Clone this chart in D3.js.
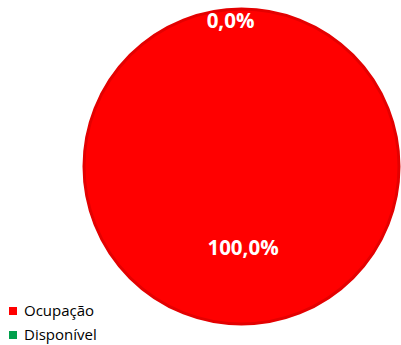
<!DOCTYPE html>
<html>
<head>
<meta charset="utf-8">
<script src="https://cdn.jsdelivr.net/npm/d3@7"></script>
<style>
  html, body { margin: 0; padding: 0; background: #fff; }
  svg { display: block; }
</style>
</head>
<body>
<svg id="chart" width="401" height="345"></svg>
<script>
const categories = ["Ocupação", "Disponível"];
const values = [100.0, 0.0];
const labels = ["100,0%", "0,0%"];
const colors = ["#ff0000", "#00a04c"];

const svg = d3.select("#chart");
const cx = 241.5, cy = 166.5, r = 157.5;

const data = categories.map((c, i) => ({ name: c, value: values[i], label: labels[i], color: colors[i] }));

// Start at 12 o'clock, going clockwise; the empty slice sits at the top
const pie = d3.pie().sort(null).value(d => d.value).startAngle(0).endAngle(2 * Math.PI);
const arcs = pie(data);
const arc = d3.arc().innerRadius(0).outerRadius(r);

const g = svg.append("g").attr("transform", `translate(${cx},${cy})`);

g.selectAll("path.slice")
  .data(arcs)
  .join("path")
  .attr("class", "slice")
  .attr("d", arc)
  .attr("fill", d => d.data.color)
  .attr("stroke", "#e40000")
  .attr("stroke-width", d => d.value > 0 ? 3 : 0);

// Data labels: full slice label in the lower half, empty slice label at the rim
const labelRadius = [81, 146];
const labelDx = [1.5, -11];
g.selectAll("text.lbl")
  .data(arcs)
  .join("text")
  .attr("class", "lbl")
  .attr("x", (d, i) => {
    const a = (d.startAngle + d.endAngle) / 2;
    return Math.sin(a) * labelRadius[i] + labelDx[i];
  })
  .attr("y", (d, i) => {
    const a = (d.startAngle + d.endAngle) / 2;
    return -Math.cos(a) * labelRadius[i];
  })
  .attr("dy", "0.35em")
  .attr("text-anchor", "middle")
  .attr("font-family", "'Open Sans', 'DejaVu Sans', sans-serif")
  .attr("font-weight", "bold")
  .attr("font-size", 20.5)
  .attr("fill", "#ffffff")
  .text(d => d.data.label);

// Legend
const legend = svg.append("g").attr("transform", "translate(9,307)");
const item = legend.selectAll("g.item")
  .data(data)
  .join("g")
  .attr("class", "item")
  .attr("transform", (d, i) => `translate(0,${i * 24})`);
item.append("rect")
  .attr("width", 8).attr("height", 8)
  .attr("fill", d => d.color);
item.append("text")
  .attr("x", 15).attr("y", 8.5)
  .attr("font-family", "'Open Sans', 'DejaVu Sans', sans-serif")
  .attr("font-size", 15)
  .attr("fill", "#000")
  .text(d => d.name);
</script>
</body>
</html>
